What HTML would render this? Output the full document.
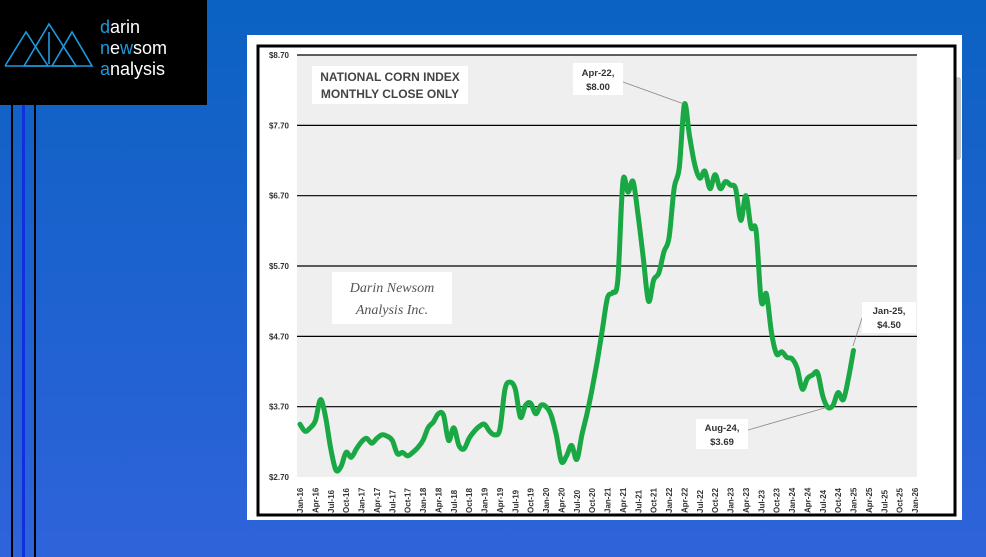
<!DOCTYPE html>
<html><head><meta charset="utf-8"><style>
html,body{margin:0;padding:0;}
body{width:986px;height:557px;overflow:hidden;position:relative;background:linear-gradient(180deg,#0b62c2 0%,#1d62cf 50%,#2f63da 100%);font-family:"Liberation Sans",sans-serif;}
.vl{position:absolute;top:105px;bottom:0;width:2px;background:#000;}
</style></head><body>
<div class="vl" style="left:11px"></div>
<div class="vl" style="left:22px;background:#1030e0;width:3px"></div>
<div class="vl" style="left:34px"></div>
<div style="position:absolute;left:0;top:0;width:207px;height:105px;background:#000;">
<svg width="100" height="60" style="position:absolute;left:4px;top:22px" viewBox="0 0 100 60">
<g fill="none" stroke="#1a9be0" stroke-width="1.6">
<polyline points="1,44 22,10 44,44 1,44"/><polyline points="20,44 45,2 72,44 20,44"/><polyline points="48,44 68,10 88,44 48,44"/>
<line x1="45" y1="10" x2="45" y2="42"/></g>
</svg>
<div style="position:absolute;left:100px;top:17px;color:#fff;font-size:18px;line-height:21px;">
<span style="color:#1a9be0">d</span>arin<br><span style="color:#1a9be0">n</span>e<span style="color:#1a9be0">w</span>som<br><span style="color:#1a9be0">a</span>nalysis</div>
</div>
<div style="position:absolute;left:247px;top:35px;width:715px;height:485px;background:#fff;"></div>
<div style="position:absolute;left:955px;top:77px;width:6px;height:83px;background:#c8c8c8;border-radius:3px"></div>
<svg id="c" width="986" height="557" style="position:absolute;left:0;top:0" font-family="Liberation Sans, sans-serif">
<rect x="258" y="46" width="697" height="469" fill="none" stroke="#000" stroke-width="3"/>
<rect x="297" y="55" width="620" height="422" fill="#efefef"/>
<g id="g"></g>
<rect x="312" y="66" width="156" height="38" fill="#fff"/>
<text x="390" y="81" font-size="12" font-weight="bold" fill="#444" text-anchor="middle">NATIONAL CORN INDEX</text>
<text x="390" y="98" font-size="12" font-weight="bold" fill="#444" text-anchor="middle">MONTHLY CLOSE ONLY</text>
<rect x="332" y="272" width="120" height="52" fill="#fff"/>
<text x="392" y="292" font-size="14" font-style="italic" fill="#555" text-anchor="middle" font-family="Liberation Serif, serif">Darin Newsom</text>
<text x="392" y="314" font-size="14" font-style="italic" fill="#555" text-anchor="middle" font-family="Liberation Serif, serif">Analysis Inc.</text>
<g stroke="#888" stroke-width="0.8"><line x1="623" y1="82" x2="684" y2="104"/><line x1="748" y1="430" x2="828" y2="407"/><line x1="862" y1="318" x2="853" y2="346"/></g>
<rect x="573" y="63" width="50" height="32" fill="#fff"/>
<text x="598" y="76" font-size="9.5" font-weight="bold" fill="#333" text-anchor="middle">Apr-22,</text>
<text x="598" y="90" font-size="9.5" font-weight="bold" fill="#333" text-anchor="middle">$8.00</text>
<rect x="862" y="302" width="54" height="31" fill="#fff"/>
<text x="889" y="314" font-size="9.5" font-weight="bold" fill="#333" text-anchor="middle">Jan-25,</text>
<text x="889" y="328" font-size="9.5" font-weight="bold" fill="#333" text-anchor="middle">$4.50</text>
<rect x="696" y="419" width="52" height="30" fill="#fff"/>
<text x="722" y="431" font-size="9.5" font-weight="bold" fill="#333" text-anchor="middle">Aug-24,</text>
<text x="722" y="445" font-size="9.5" font-weight="bold" fill="#333" text-anchor="middle">$3.69</text>
</svg>
<script>
var g=document.getElementById('g'),s='';
var y0=477,k=70.33;
function Y(v){return y0-(v-2.7)*k;}
var labs=['$8.70','$7.70','$6.70','$5.70','$4.70','$3.70','$2.70'];
for(var i=0;i<7;i++){var v=8.7-i,y=Y(v);
 if(i<6)s+='<line x1="297" x2="917" y1="'+y+'" y2="'+y+'" stroke="#000" stroke-width="1.2"/>';
 s+='<text x="289" y="'+(y+3)+'" font-size="8" font-weight="bold" fill="#333" text-anchor="end">'+labs[i]+'</text>';}
var m=['Jan','Apr','Jul','Oct'];
for(var i=0;i<=40;i++){var x=300+i*3*5.125;var yr=16+Math.floor(i/4);
 s+='<text transform="translate('+(x+3)+',513) rotate(-90)" font-size="8" font-weight="bold" fill="#333">'+m[i%4]+'-'+yr+'</text>';}
var d=[3.45,3.35,3.40,3.50,3.80,3.55,3.10,2.80,2.85,3.05,2.98,3.10,
3.20,3.25,3.18,3.25,3.30,3.28,3.22,3.03,3.05,3.00,3.05,3.12,
3.22,3.40,3.48,3.60,3.58,3.22,3.40,3.15,3.10,3.25,3.35,3.42,
3.45,3.35,3.30,3.38,3.95,4.05,3.95,3.55,3.72,3.75,3.60,3.72,
3.70,3.58,3.30,2.92,3.00,3.15,2.95,3.30,3.60,3.95,4.35,4.80,
5.25,5.32,5.50,6.90,6.75,6.90,6.40,5.80,5.20,5.50,5.60,5.90,
6.10,6.80,7.10,8.00,7.55,7.15,6.95,7.05,6.80,7.00,6.80,6.90,
6.85,6.80,6.35,6.70,6.25,6.20,5.20,5.30,4.75,4.45,4.48,4.40,
4.38,4.25,3.95,4.10,4.15,4.18,3.85,3.69,3.72,3.90,3.80,4.10,4.50];
var P=d.map(function(v,i){return [300+i*5.125,Y(v)];});
var p='M'+P[0][0]+','+P[0][1];
for(var i=0;i<P.length-1;i++){var a=P[i>0?i-1:0],b=P[i],c=P[i+1],e=P[i+2<P.length?i+2:i+1];
 var c1=[b[0]+(c[0]-a[0])/6,b[1]+(c[1]-a[1])/6],c2=[c[0]-(e[0]-b[0])/6,c[1]-(e[1]-b[1])/6];
 p+=' C'+c1[0].toFixed(1)+','+c1[1].toFixed(1)+' '+c2[0].toFixed(1)+','+c2[1].toFixed(1)+' '+c[0].toFixed(1)+','+c[1].toFixed(1);}
s+='<path d="'+p+'" fill="none" stroke="#1aa845" stroke-width="5" stroke-linejoin="round" stroke-linecap="round"/>';
g.innerHTML=s;
</script>
</body></html>
